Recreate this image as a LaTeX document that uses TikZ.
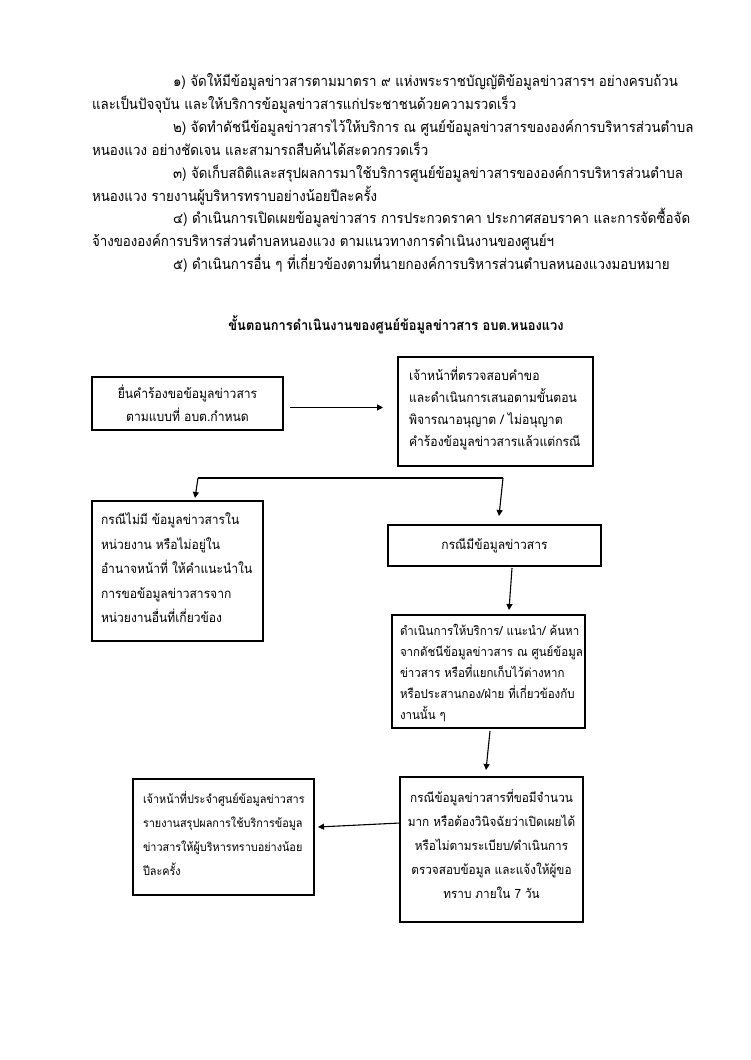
\documentclass[tikz,border=0pt]{standalone}
\usepackage{fontspec}
\newfontfamily\thai[Script=Thai, FakeStretch=0.92]{Loma}
\usetikzlibrary{arrows.meta,calc}
\begin{document}
\begin{tikzpicture}[x=1pt,y=-1pt,
  every node/.style={inner sep=0pt, outer sep=0pt},
  para/.style={anchor=base west, font=\thai\fontsize{14.5}{22}\selectfont},
  box/.style={draw, line width=1.1pt, anchor=north west},
  txt/.style={font=\thai\fontsize{13.2}{23}\selectfont},
  arr/.style={line width=1.1pt, -{Triangle[length=6pt,width=6pt]}},
  ln/.style={line width=1.1pt}]
\useasboundingbox (0,0) rectangle (750,1060);
% paragraph
\node[para] (p1) at (173,86) {๑) จัดให้มีข้อมูลข่าวสารตามมาตรา ๙ แห่งพระราชบัญญัติข้อมูลข่าวสารฯ อย่างครบถ้วน};
\node[para] (p2) at (92,109) {และเป็นปัจจุบัน และให้บริการข้อมูลข่าวสารแก่ประชาชนด้วยความรวดเร็ว};
\node[para] (p3) at (173,132) {๒) จัดทำดัชนีข้อมูลข่าวสารไว้ให้บริการ ณ ศูนย์ข้อมูลข่าวสารขององค์การบริหารส่วนตำบล};
\node[para] (p4) at (92,155) {หนองแวง อย่างชัดเจน และสามารถสืบค้นได้สะดวกรวดเร็ว};
\node[para] (p5) at (173,178) {๓) จัดเก็บสถิติและสรุปผลการมาใช้บริการศูนย์ข้อมูลข่าวสารขององค์การบริหารส่วนตำบล};
\node[para] (p6) at (92,201) {หนองแวง รายงานผู้บริหารทราบอย่างน้อยปีละครั้ง};
\node[para] (p7) at (173,223) {๔) ดำเนินการเปิดเผยข้อมูลข่าวสาร การประกวดราคา ประกาศสอบราคา และการจัดซื้อจัด};
\node[para] (p8) at (92,246) {จ้างขององค์การบริหารส่วนตำบลหนองแวง ตามแนวทางการดำเนินงานของศูนย์ฯ};
\node[para] (p9) at (173,269) {๕) ดำเนินการอื่น ๆ ที่เกี่ยวข้องตามที่นายกองค์การบริหารส่วนตำบลหนองแวงมอบหมาย};
% title
\node[anchor=base, font=\thai\bfseries\fontsize{14}{22}\selectfont] (title) at (396,330) {ขั้นตอนการดำเนินงานของศูนย์ข้อมูลข่าวสาร อบต.หนองแวง};
% boxes
\node[box, minimum width=191pt, minimum height=53pt] (A) at (92,377) {};
\node[box, minimum width=195pt, minimum height=109pt] (B) at (398,357) {};
\node[box, minimum width=171pt, minimum height=140pt] (C) at (92,501) {};
\node[box, minimum width=213pt, minimum height=41pt] (D) at (388,525) {};
\node[box, minimum width=193pt, minimum height=113pt] (E) at (392,615) {};
\node[box, minimum width=183pt, minimum height=145pt] (F) at (400,777) {};
\node[box, minimum width=181pt, minimum height=116pt] (G) at (133,779) {};
% texts
\node[txt, align=center] (At) at (A.center) {ยื่นคำร้องขอข้อมูลข่าวสาร\\ตามแบบที่ อบต.กำหนด};
\node[txt, align=left, anchor=north west, font=\thai\fontsize{13.2}{22}\selectfont] (Bt) at ($(B.north west)+(11,10)$) {เจ้าหน้าที่ตรวจสอบคำขอ\\และดำเนินการเสนอตามขั้นตอน\\พิจารณาอนุญาต / ไม่อนุญาต\\คำร้องข้อมูลข่าวสารแล้วแต่กรณี};
\node[align=left, anchor=north west, font=\thai\fontsize{13.1}{24.5}\selectfont] (Ct) at ($(C.north west)+(9,12)$) {กรณีไม่มี ข้อมูลข่าวสารใน\\หน่วยงาน หรือไม่อยู่ใน\\อำนาจหน้าที่ ให้คำแนะนำใน\\การขอข้อมูลข่าวสารจาก\\หน่วยงานอื่นที่เกี่ยวข้อง};
\node[font=\thai\fontsize{13.1}{23}\selectfont] (Dt) at (D.center) {กรณีมีข้อมูลข่าวสาร};
\node[align=left, anchor=north west, font=\thai\fontsize{12.5}{21}\selectfont] (Et) at ($(E.north west)+(8,9)$) {ดำเนินการให้บริการ/ แนะนำ/ ค้นหา\\จากดัชนีข้อมูลข่าวสาร ณ ศูนย์ข้อมูล\\ข่าวสาร หรือที่แยกเก็บไว้ต่างหาก\\หรือประสานกอง/ฝ่าย ที่เกี่ยวข้องกับ\\งานนั้น ๆ};
\node[align=center, anchor=north, font=\thai\fontsize{12.8}{24}\selectfont] (Ft) at ($(F.north)+(0,12)$) {กรณีข้อมูลข่าวสารที่ขอมีจำนวน\\มาก หรือต้องวินิจฉัยว่าเปิดเผยได้\\หรือไม่ตามระเบียบ/ดำเนินการ\\ตรวจสอบข้อมูล และแจ้งให้ผู้ขอ\\ทราบ ภายใน 7 วัน};
\node[align=left, anchor=north west, font=\thai\fontsize{11.8}{24}\selectfont] (Gt) at ($(G.north west)+(10,12)$) {เจ้าหน้าที่ประจำศูนย์ข้อมูลข่าวสาร\\รายงานสรุปผลการใช้บริการข้อมูล\\ข่าวสารให้ผู้บริหารทราบอย่างน้อย\\ปีละครั้ง};
% connectors
\draw[arr] ($(A.east)+(7,4)$) -- ($(B.west)+(-15,-4)$);
\coordinate (fl) at (198,478);
\coordinate (fr) at (503,478);
\draw[ln] (fl) -- (fr);
\draw[arr] (fl) -- ($(C.north)+(17.5,-3)$);
\draw[arr] (fr) -- ($(D.north)+(4.5,-9)$);
\draw[arr] ($(D.south)+(17.5,2)$) -- ($(E.north)+(20.5,-5)$);
\draw[arr] ($(E.south)+(1.5,3)$) -- ($(F.north)+(-5.5,-7)$);
\draw[arr] ($(F.west)+(0,-26.5)$) -- ($(G.east)+(4,-10)$);
\end{tikzpicture}
\end{document}
